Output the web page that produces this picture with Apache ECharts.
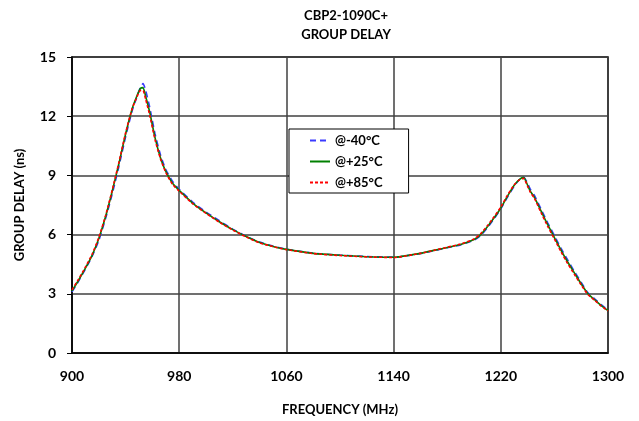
<!DOCTYPE html>
<html>
<head>
<meta charset="utf-8">
<script src="https://cdn.jsdelivr.net/npm/echarts@6/dist/echarts.min.js"></script>
<style>html,body{margin:0;padding:0;background:#fff}#c{width:639px;height:421px}</style>
</head>
<body>
<div id="c"></div>
<script>
const freq = [900,905,910,915,920,925,930,935,940,945,948,951,953,955,958,962,966,970,975,980,990,1000,1010,1020,1030,1040,1050,1060,1080,1100,1120,1140,1160,1170,1180,1190,1200,1205,1210,1215,1220,1225,1230,1234,1237,1240,1242,1245,1250,1255,1260,1265,1270,1275,1280,1285,1290,1295,1300];
const gdMinus40 = [3.1,3.65,4.25,4.9,5.7,6.8,8.05,9.45,10.95,12.3,12.9,13.45,13.65,13.3,12.45,11.1,10.05,9.3,8.7,8.3,7.65,7.15,6.7,6.28,5.92,5.62,5.42,5.26,5.06,4.96,4.89,4.86,5.04,5.18,5.33,5.48,5.72,5.95,6.35,6.8,7.3,7.9,8.45,8.8,8.92,8.6,8.3,8.0,7.3,6.6,5.95,5.3,4.7,4.12,3.58,3.05,2.75,2.45,2.18];
const gdPlus25 = [3.15,3.7,4.3,4.95,5.8,6.9,8.2,9.6,11.1,12.4,12.95,13.4,13.45,13.0,12.2,10.9,9.9,9.2,8.6,8.24,7.6,7.1,6.65,6.25,5.9,5.6,5.4,5.25,5.05,4.95,4.88,4.85,5.05,5.2,5.35,5.5,5.75,6.0,6.4,6.85,7.35,7.95,8.5,8.8,8.9,8.5,8.2,7.9,7.2,6.5,5.85,5.2,4.6,4.05,3.5,3.0,2.7,2.4,2.15];
const gdPlus85 = [3.2,3.75,4.35,5.0,5.85,6.95,8.25,9.65,11.15,12.4,12.9,13.3,13.3,12.85,12.05,10.8,9.85,9.15,8.55,8.2,7.57,7.08,6.63,6.23,5.88,5.58,5.39,5.24,5.04,4.94,4.87,4.84,5.05,5.2,5.36,5.52,5.78,6.05,6.45,6.9,7.4,8.0,8.52,8.78,8.85,8.45,8.15,7.85,7.12,6.42,5.78,5.12,4.52,3.98,3.45,2.96,2.67,2.38,2.13];
const seriesNames = ['@-40°C','@+25°C','@+85°C'];
const xTicks = [900,980,1060,1140,1220,1300];
const yTicks = [0,3,6,9,12,15];

const FONT = 'Lato';
const pairs = arr => freq.map((f,i)=>[f,arr[i]]);
const chart = echarts.init(document.getElementById('c'), null, {renderer:'canvas'});
chart.setOption({
  animation:false,
  backgroundColor:'#fff',
  title:{
    text:'CBP2-1090C+\nGROUP DELAY',
    left:341, top:1, textAlign:'center',
    textStyle:{fontFamily:FONT,fontWeight:'bold',fontSize:13,color:'#000',lineHeight:19}
  },
  legend:{
    orient:'vertical', left:289, top:129,
    padding:[5,26,4,20], itemWidth:20, itemHeight:14, itemGap:8,
    backgroundColor:'#fff', borderColor:'#000', borderWidth:1,
    itemStyle:{opacity:0},
    textStyle:{fontFamily:FONT,fontWeight:'bold',fontSize:13,color:'#000'},
    data:seriesNames
  },
  grid:{left:72,right:31,top:57,bottom:65,show:true,borderColor:'#000',borderWidth:1.5},
  xAxis:{
    type:'value', min:xTicks[0], max:xTicks[xTicks.length-1], interval:80,
    name:'FREQUENCY (MHz)', nameLocation:'middle', nameGap:50,
    nameTextStyle:{fontFamily:FONT,fontWeight:'bold',fontSize:13,color:'#000'},
    axisLine:{lineStyle:{color:'#000',width:1.5}},
    axisTick:{show:false},
    axisLabel:{fontFamily:FONT,fontWeight:'bold',fontSize:14,color:'#000',margin:16,formatter:v=>String(v)},
    splitLine:{show:true,lineStyle:{color:'#404040',width:1.5}}
  },
  yAxis:{
    type:'value', min:yTicks[0], max:yTicks[yTicks.length-1], interval:3,
    name:'GROUP DELAY (ns)', nameLocation:'middle', nameGap:46,
    nameTextStyle:{fontFamily:FONT,fontWeight:'bold',fontSize:13,color:'#000'},
    axisLine:{show:true,lineStyle:{color:'#000',width:1.5}},
    axisTick:{show:true,length:5,lineStyle:{color:'#000'}},
    axisLabel:{fontFamily:FONT,fontWeight:'bold',fontSize:14,color:'#000',margin:16},
    splitLine:{show:true,lineStyle:{color:'#404040',width:1.5}}
  },
  series:[
    {name:seriesNames[0],type:'line',data:pairs(gdMinus40),showSymbol:false,symbol:'none',smooth:0.2,
     lineStyle:{color:'#3a3aff',width:1.6,type:[6,4]},itemStyle:{color:'#3a3aff'}},
    {name:seriesNames[1],type:'line',data:pairs(gdPlus25),showSymbol:false,symbol:'none',smooth:0.2,
     lineStyle:{color:'#008000',width:1.6,type:'solid'},itemStyle:{color:'#008000'}},
    {name:seriesNames[2],type:'line',data:pairs(gdPlus85),showSymbol:false,symbol:'none',smooth:0.2,
     lineStyle:{color:'#ff0000',width:1.6,type:[3,2]},itemStyle:{color:'#ff0000'}}
  ]
});
</script>
</body>
</html>
